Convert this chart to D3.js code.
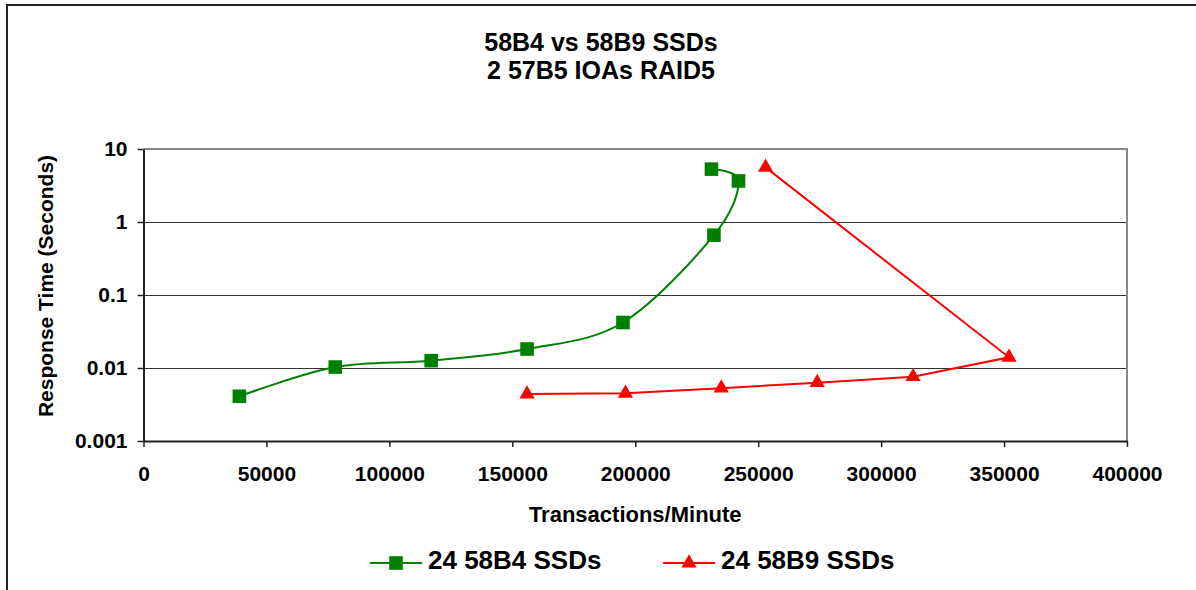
<!DOCTYPE html>
<html>
<head>
<meta charset="utf-8">
<script src="https://cdn.jsdelivr.net/npm/d3@7"></script>
<style>
  body { margin: 0; background: #fff; }
  text { font-family: "Liberation Sans", Arial, sans-serif; font-weight: bold; fill: #000; }
</style>
</head>
<body>
<svg id="chart" width="1196" height="590"></svg>
<script>
// data
var titleLines = ["58B4 vs 58B9 SSDs", "2 57B5 IOAs RAID5"];
var seriesNames = ["24 58B4 SSDs", "24 58B9 SSDs"];
var b4Tpm  = [39000, 78000, 117000, 156000, 195000, 232000, 242000, 231000];
var b4Resp = [0.0041, 0.0103, 0.0126, 0.0182, 0.042, 0.66, 3.65, 5.3];
var b9Tpm  = [156000, 196000, 235000, 274000, 313000, 352000, 253000];
var b9Resp = [0.0044, 0.0045, 0.0053, 0.0063, 0.0076, 0.014, 5.6];
var xTicks = [0, 50000, 100000, 150000, 200000, 250000, 300000, 350000, 400000];
var yTicks = [0.001, 0.01, 0.1, 1, 10];
var yTickLabels = ["0.001", "0.01", "0.1", "1", "10"];

var svg = d3.select("#chart"),
    margin = {top: 149, right: 69, bottom: 149, left: 143.5},
    width = 1196 - margin.left - margin.right,
    height = 590 - margin.top - margin.bottom;

// outer chart border (runs off the right and bottom of the picture)
svg.append("rect")
    .attr("x", 7).attr("y", 5)
    .attr("width", 1300).attr("height", 700)
    .attr("fill", "#fff")
    .attr("stroke", "#222")
    .attr("stroke-width", 2);

var x = d3.scaleLinear().domain([0, 400000]).range([margin.left, margin.left + width]);
var y = d3.scaleLog().domain([0.001, 10]).range([margin.top + height, margin.top]);

// title
svg.selectAll(".title")
    .data(titleLines)
  .enter().append("text")
    .attr("class", "title")
    .attr("x", 601)
    .attr("y", (d, i) => 51 + i * 28)
    .attr("text-anchor", "middle")
    .attr("font-size", 25)
    .text(d => d);

// gridlines
svg.append("g")
    .selectAll("line")
    .data(yTicks.slice(1, -1))
  .enter().append("line")
    .attr("x1", x(0)).attr("x2", x(400000))
    .attr("y1", d => Math.round(y(d)) + 0.5).attr("y2", d => Math.round(y(d)) + 0.5)
    .attr("stroke", "#333")
    .attr("stroke-width", 1);

// plot area top/right border
svg.append("path")
    .attr("d", "M" + x(0) + "," + y(10) + "H" + x(400000) + "V" + y(0.001))
    .attr("fill", "none")
    .attr("stroke", "#888")
    .attr("stroke-width", 2);

var xAxis = d3.axisBottom(x).tickValues(xTicks).tickFormat(d3.format("d")).tickSize(6).tickSizeOuter(0);
var yAxis = d3.axisLeft(y).tickValues(yTicks).tickFormat((d, i) => yTickLabels[i]).tickSize(6).tickSizeOuter(0);

var gx = svg.append("g")
    .attr("transform", "translate(0," + y(0.001) + ")")
    .call(xAxis);
gx.select(".domain").attr("stroke", "#222").attr("stroke-width", 2);
gx.selectAll(".tick line").attr("stroke", "#222").attr("stroke-width", 1.5);
gx.selectAll(".tick text")
    .attr("font-size", 21)
    .attr("y", 0).attr("dy", 0)
    .attr("transform", "translate(0,40)");

var gy = svg.append("g")
    .attr("transform", "translate(" + x(0) + ",0)")
    .call(yAxis);
gy.select(".domain").attr("stroke", "#222").attr("stroke-width", 2);
gy.selectAll(".tick line").attr("stroke", "#222").attr("stroke-width", 1.5);
gy.selectAll(".tick text")
    .attr("font-size", 21)
    .attr("x", -16);

svg.selectAll(".tick text").attr("font-family", "Liberation Sans").attr("font-weight", "bold").attr("fill", "#000");

// axis titles
svg.append("text")
    .attr("x", x(200000))
    .attr("y", 522)
    .attr("text-anchor", "middle")
    .attr("font-size", 22)
    .text("Transactions/Minute");

svg.append("text")
    .attr("transform", "translate(53,286) rotate(-90)")
    .attr("text-anchor", "middle")
    .attr("font-size", 21)
    .text("Response Time (Seconds)");

// series
var b4 = b4Tpm.map((t, i) => ({tpm: t, resp: b4Resp[i]}));
var b9 = b9Tpm.map((t, i) => ({tpm: t, resp: b9Resp[i]}));

var smooth = d3.line()
    .curve(d3.curveCatmullRom.alpha(0))
    .x(d => x(d.tpm))
    .y(d => y(d.resp));

var straight = d3.line()
    .x(d => x(d.tpm))
    .y(d => y(d.resp));

svg.append("path")
    .attr("d", smooth(b4))
    .attr("fill", "none")
    .attr("stroke", "#008000")
    .attr("stroke-width", 2);

svg.append("path")
    .attr("d", straight(b9))
    .attr("fill", "none")
    .attr("stroke", "#ff0000")
    .attr("stroke-width", 2);

var square = d3.symbol().type(d3.symbolSquare).size(185);
var triangle = d3.symbol().type(d3.symbolTriangle).size(100);

svg.selectAll(".b4pt")
    .data(b4)
  .enter().append("path")
    .attr("class", "b4pt")
    .attr("d", square)
    .attr("transform", d => "translate(" + x(d.tpm) + "," + y(d.resp) + ")")
    .attr("fill", "#008000");

svg.selectAll(".b9pt")
    .data(b9)
  .enter().append("path")
    .attr("class", "b9pt")
    .attr("d", triangle)
    .attr("transform", d => "translate(" + x(d.tpm) + "," + y(d.resp) + ")")
    .attr("fill", "#ff0000");

// legend
var legendItems = [
    {name: seriesNames[0], color: "#008000", sym: square, x: 370},
    {name: seriesNames[1], color: "#ff0000", sym: triangle, x: 663}
];

var legend = svg.selectAll(".legend")
    .data(legendItems)
  .enter().append("g")
    .attr("class", "legend")
    .attr("transform", d => "translate(" + d.x + ",563)");

legend.append("line")
    .attr("x1", 0).attr("x2", 52)
    .attr("stroke", d => d.color)
    .attr("stroke-width", 2);

legend.append("path")
    .attr("d", d => d.sym())
    .attr("transform", "translate(26,0)")
    .attr("fill", d => d.color);

legend.append("text")
    .attr("x", 58)
    .attr("y", 6)
    .attr("font-size", 26)
    .text(d => d.name);
</script>
</body>
</html>
